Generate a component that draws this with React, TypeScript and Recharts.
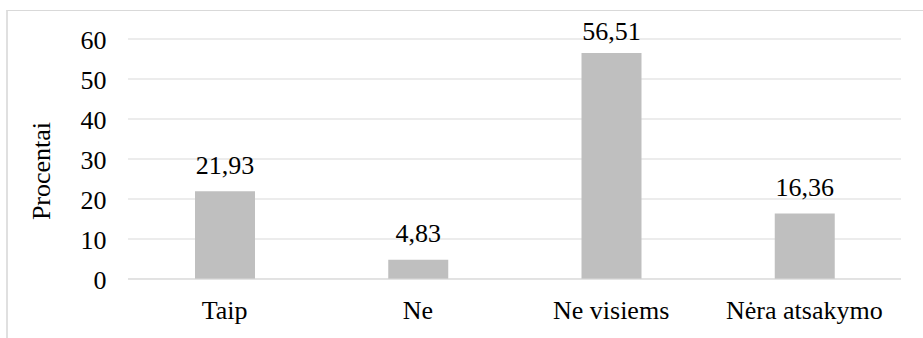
import React from "react";
import { BarChart, Bar, XAxis, YAxis, CartesianGrid, LabelList, Label } from "recharts";

// Survey answers and their share in percent
const categories: string[] = ["Taip", "Ne", "Ne visiems", "Nėra atsakymo"];
const percentValues: number[] = [21.93, 4.83, 56.51, 16.36];
const yTicks: number[] = [0, 10, 20, 30, 40, 50, 60];
const yAxisTitle = "Procentai";

const rows = categories.map((name, i) => ({ name, value: percentValues[i] }));

const FONT = "Liberation Serif";
const FONT_SIZE = 26;
const GRID = "#d9d9d9";
const BAR = "#bfbfbf";
const MARGIN = { top: 39, right: 22, bottom: 19, left: 28 };

const formatValue = (v: number) => v.toFixed(2).replace(".", ",");

// Rotated axis title, placed from the axis viewBox
const AxisTitle = (props: any) => {
  const vb = props.viewBox || { x: 0, y: 0, width: 0, height: 0 };
  const cx = vb.x + 21.5;
  const cy = vb.y + vb.height / 2 + 12;
  return (
    <text
      x={cx}
      y={cy}
      transform={`rotate(-90 ${cx} ${cy})`}
      textAnchor="middle"
      fontFamily={FONT}
      fontSize={FONT_SIZE}
      fill="#000"
    >
      {yAxisTitle}
    </text>
  );
};

// Value label above each bar, kept from rising above the plot's top edge
const ValueLabel = (props: any) => {
  const { x, y, width, value } = props;
  const baseline = Math.max(Number(y) - 17.5, MARGIN.top + 0.5);
  return (
    <text
      x={Number(x) + Number(width) / 2}
      y={baseline}
      textAnchor="middle"
      fontFamily={FONT}
      fontSize={FONT_SIZE}
      fill="#000"
    >
      {formatValue(Number(value))}
    </text>
  );
};

export default function App() {
  return (
    <div
      style={{
        position: "absolute",
        left: 0,
        top: 0,
        width: 923,
        height: 338,
        overflow: "hidden",
        background: "#fff",
      }}
    >
      <div
        style={{
          position: "absolute",
          left: 6,
          top: 10,
          width: 1000,
          height: 400,
          borderTop: "1px solid #d9d9d9",
          borderLeft: "2px solid #e0e0e0",
        }}
      />
      <div style={{ position: "absolute", left: 0, top: 0 }}>
        <BarChart width={923} height={338} data={rows} margin={MARGIN} barSize={60}>
          <CartesianGrid horizontal vertical={false} stroke={GRID} strokeWidth={1} />
          <XAxis
            dataKey="name"
            axisLine={{ stroke: GRID }}
            tickLine={false}
            tickSize={0}
            tickMargin={21.5}
            height={40}
            interval={0}
            tick={{ fontFamily: FONT, fontSize: FONT_SIZE, fill: "#000" }}
          />
          <YAxis
            domain={[0, 60]}
            ticks={yTicks}
            axisLine={false}
            tickLine={false}
            tickSize={0}
            tickMargin={21.5}
            width={100}
            tick={{ fontFamily: FONT, fontSize: FONT_SIZE, fill: "#000", dy: 1 }}
          >
            <Label content={<AxisTitle />} />
          </YAxis>
          <Bar dataKey="value" fill={BAR} isAnimationActive={false}>
            <LabelList dataKey="value" content={<ValueLabel />} />
          </Bar>
        </BarChart>
      </div>
    </div>
  );
}
